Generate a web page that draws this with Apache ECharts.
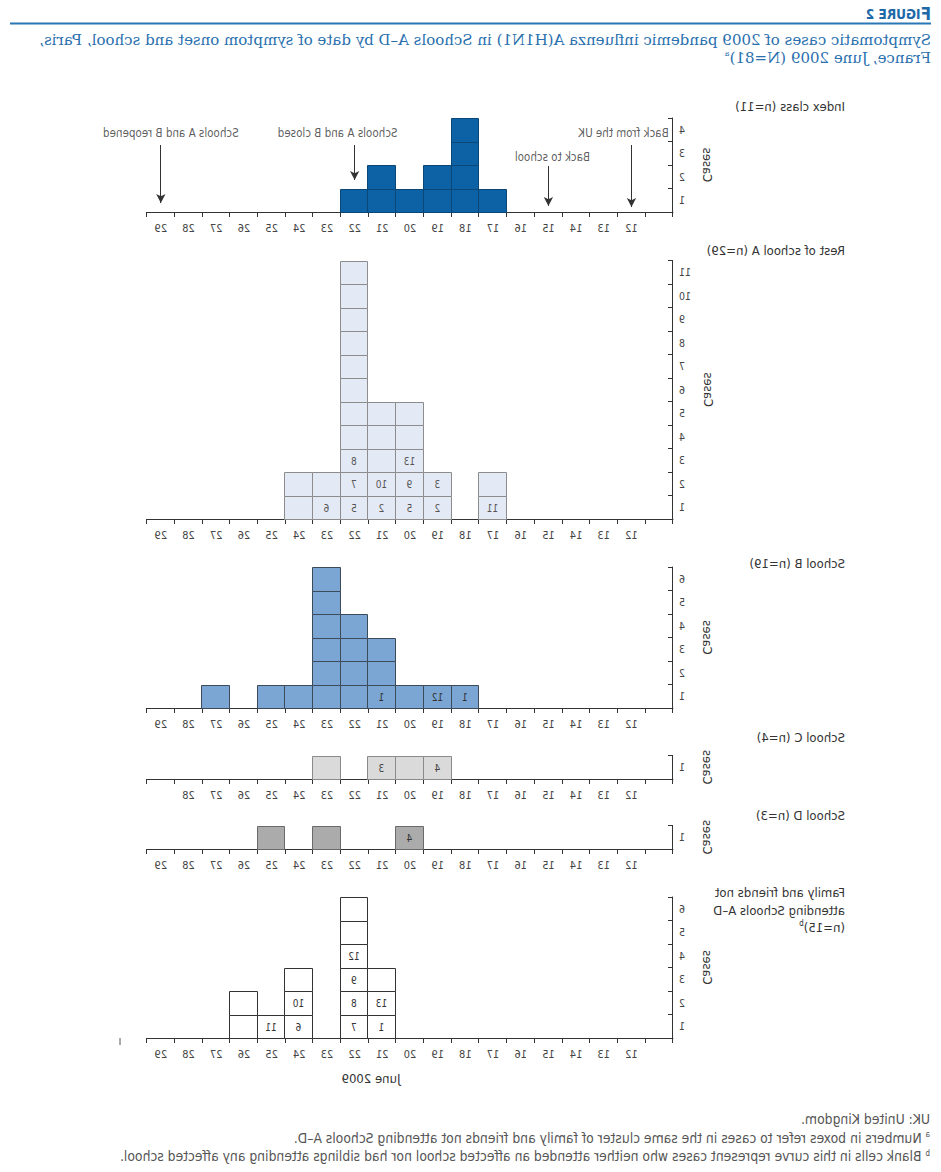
<!DOCTYPE html>
<html>
<head>
<meta charset="utf-8">
<script src="https://cdn.jsdelivr.net/npm/echarts/dist/echarts.min.js"></script>
<style>
html,body{margin:0;padding:0;background:#ffffff;}
#chart{width:941px;height:1172px;transform:scaleX(-1);}
</style>
</head>
<body>
<div id="chart"></div>
<script>
// ---------- DATA ----------
const days = ['11','12','13','14','15','16','17','18','19','20','21','22','23','24','25','26','27','28','29'];
const xTickLabels  = ['', '12','13','14','15','16','17','18','19','20','21','22','23','24','25','26','27','28','29'];
const xTickLabelsC = ['', '12','13','14','15','16','17','18','19','20','21','22','23','24','25','26','27','28',''];

//                     11 12 13 14 15 16 17 18 19 20 21 22 23 24 25 26 27 28 29
const indexClassCases = [0, 0, 0, 0, 0, 0, 1, 4, 2, 1, 2, 1, 0, 0, 0, 0, 0, 0, 0];
const restOfACases    = [0, 0, 0, 0, 0, 0, 2, 0, 2, 5, 5,11, 2, 2, 0, 0, 0, 0, 0];
const schoolBCases    = [0, 0, 0, 0, 0, 0, 0, 1, 1, 1, 3, 4, 6, 1, 1, 0, 1, 0, 0];
const schoolCCases    = [0, 0, 0, 0, 0, 0, 0, 0, 1, 1, 1, 0, 1, 0, 0, 0, 0, 0, 0];
const schoolDCases    = [0, 0, 0, 0, 0, 0, 0, 0, 0, 1, 0, 0, 1, 0, 1, 0, 0, 0, 0];
const familyCases     = [0, 0, 0, 0, 0, 0, 0, 0, 0, 0, 3, 6, 0, 3, 1, 2, 0, 0, 0];

// [day, level, text]
const indexClassCellLabels = [];
const restOfACellLabels = [['23',1,'6'],['22',1,'5'],['22',2,'7'],['22',3,'8'],['21',1,'2'],['21',2,'10'],
  ['20',1,'5'],['20',2,'9'],['20',3,'13'],['19',1,'2'],['19',2,'3'],['17',1,'11']];
const schoolBCellLabels = [['21',1,'1'],['19',1,'12'],['18',1,'1']];
const schoolCCellLabels = [['21',1,'3'],['19',1,'4']];
const schoolDCellLabels = [['20',1,'4']];
const familyCellLabels  = [['25',1,'11'],['24',1,'6'],['24',2,'10'],['22',1,'7'],['22',2,'8'],['22',3,'9'],
  ['22',4,'12'],['21',1,'1'],['21',2,'13']];

const yTicksIndex  = ['1','2','3','4'];
const yTicksRestA  = ['1','2','3','4','5','6','7','8','9','10','11'];
const yTicksB      = ['1','2','3','4','5','6'];
const yTicksC      = ['1'];
const yTicksD      = ['1'];
const yTicksFamily = ['1','2','3','4','5','6'];

const panelTitles = ['Index class (n=11)', 'Rest of school A (n=29)', 'School B (n=19)',
  'School C (n=4)', 'School D (n=3)', 'Family and friends not\nattending Schools A\u2013D\n(n=15){sup|b}'];

const annotationDays  = ['12', '15', '22', '29'];
const annotationTexts = ['Back from the UK', 'Back to school', 'Schools A and B closed', 'Schools A and B reopened'];

const figureTitleLines = ['Symptomatic cases of 2009 pandemic influenza A(H1N1) in Schools A\u2013D by date of symptom onset and school, Paris,',
  'France, June 2009 (N=81){sup|a}'];
const footnotes = ['UK: United Kingdom.',
  '{sup|a} Numbers in boxes refer to cases in the same cluster of family and friends not attending Schools A\u2013D.',
  '{sup|b} Blank cells in this curve represent cases who neither attended an affected school nor had siblings attending any affected school.'];
const xAxisTitle = 'June 2009';

// ---------- LAYOUT / STYLE ----------
const FONT = '"Liberation Sans Narrow","DejaVu Sans Condensed","Liberation Sans",sans-serif';
const SERIF = '"DejaVu Serif","Liberation Serif",serif';
const UNIT = 23.5;
const GRID_LEFT = 268, GRID_RIGHT = 147;
const panels = [
  {axisY:212,  cases:indexClassCases, cells:indexClassCellLabels, yTicks:yTicksIndex,  xLabels:xTickLabels,  fill:'#0d62a6', border:'#0a4676', lab:'#fff', titleTop:98},
  {axisY:519,  cases:restOfACases,    cells:restOfACellLabels,    yTicks:yTicksRestA,  xLabels:xTickLabels,  fill:'#e4eaf5', border:'#8c8c8c', lab:'#555', titleTop:242},
  {axisY:708,  cases:schoolBCases,    cells:schoolBCellLabels,    yTicks:yTicksB,      xLabels:xTickLabels,  fill:'#7ba6d3', border:'#3c4a5a', lab:'#333', titleTop:555},
  {axisY:779,  cases:schoolCCases,    cells:schoolCCellLabels,    yTicks:yTicksC,      xLabels:xTickLabelsC, fill:'#dadada', border:'#8a8a8a', lab:'#444', titleTop:729},
  {axisY:849,  cases:schoolDCases,    cells:schoolDCellLabels,    yTicks:yTicksD,      xLabels:xTickLabels,  fill:'#ababab', border:'#6a6a6a', lab:'#333', titleTop:807},
  {axisY:1038, cases:familyCases,     cells:familyCellLabels,     yTicks:yTicksFamily, xLabels:xTickLabels,  fill:'#ffffff', border:'#333333', lab:'#333', titleTop:884}
];
// annotation vertical placement (in case units) for panel 1
const annoStyle = [
  {textY:3.36, y0:2.85, y1:0.21, dx:8},
  {textY:2.34, y0:1.96, y1:0.26, dx:-4},
  {textY:3.36, y0:2.85, y1:1.36, dx:17},
  {textY:3.36, y0:2.85, y1:0.38, dx:-10}
];

const AX = '#333';
const grids = [], xAxes = [], yAxes = [], series = [], titles = [];

panels.forEach((p, pi) => {
  const H = p.yTicks.length;
  grids.push({left:GRID_LEFT, right:GRID_RIGHT, top:p.axisY - H*UNIT, height:H*UNIT, outerBoundsMode:'none'});
  const xa = {
    type:'category', gridIndex:pi, data:days, boundaryGap:true,
    axisLine:{show:true, lineStyle:{color:AX, width:1}},
    axisTick:{show:true, interval:0, length:5, lineStyle:{color:AX}},
    axisLabel:{interval:0, fontSize:11, color:'#444', margin:11, fontFamily:FONT,
      formatter:(v, i) => p.xLabels[i]},
    splitLine:{show:false}
  };
  if (pi === 5) {
    xa.name = xAxisTitle; xa.nameLocation = 'middle'; xa.nameGap = 34;
    xa.nameTextStyle = {fontSize:13, color:'#333', fontFamily:FONT, padding:[0,0,0,78]};
  }
  xAxes.push(xa);
  yAxes.push({type:'value', gridIndex:pi, min:0, max:H, show:false});
  yAxes.push({
    type:'category', gridIndex:pi, data:p.yTicks, boundaryGap:true, position:'left',
    axisLine:{show:true, lineStyle:{color:AX, width:1}},
    axisTick:{show:true, inside:true, interval:0, length:5, lineStyle:{color:AX}},
    axisLabel:{interval:0, fontSize:10.5, color:'#444', margin:6, fontFamily:FONT},
    splitLine:{show:false},
    name:'Cases', nameLocation:'middle', nameGap:28, nameRotate:90,
    nameTextStyle:{fontSize:13, color:'#333', fontFamily:FONT}
  });
  // one record per stacked case cell: [dayIndex, level, label]
  const cellData = [];
  p.cases.forEach((c, di) => {
    for (let k = 1; k <= c; k++) {
      const f = p.cells.find(e => e[0] === days[di] && e[1] === k);
      cellData.push([di, k, f ? f[2] : '']);
    }
  });
  series.push({
    type:'custom', xAxisIndex:pi, yAxisIndex:2*pi, silent:true,
    data:cellData,
    encode:{x:0, y:1},
    renderItem:(params, api) => {
      const di = api.value(0), k = api.value(1);
      const lo = api.coord([di, k - 1]);
      const hi = api.coord([di, k]);
      const w = api.size([1, 0])[0];
      const x0 = Math.round(lo[0] - w / 2) + 0.5;
      const x1 = Math.round(lo[0] + w / 2) + 0.5;
      const y0 = Math.round(hi[1]) + 0.5;
      const y1 = Math.round(lo[1]) + 0.5;
      const txt = cellData[params.dataIndex][2];
      return {
        type:'rect',
        shape:{x:x0, y:y0, width:x1 - x0, height:y1 - y0},
        style:{fill:p.fill, stroke:p.border, lineWidth:1},
        textContent: txt ? {style:{text:txt, fill:p.lab, fontSize:10, fontFamily:FONT}} : undefined,
        textConfig: txt ? {position:'inside'} : undefined
      };
    }
  });
  titles.push({
    text:panelTitles[pi], left:96, top:p.titleTop, padding:0,
    textStyle:{fontSize:13, fontWeight:'normal', color:'#333', fontFamily:FONT, lineHeight:17.5,
      rich:{sup:{fontSize:8, verticalAlign:'top', lineHeight:12, color:'#333', fontFamily:FONT}}}
  });
});

// annotations (panel 1)
series.push({
  type:'scatter', xAxisIndex:0, yAxisIndex:0, symbolSize:0, silent:true,
  data:annotationDays.map((d, i) => ({value:[d, annoStyle[i].textY], name:annotationTexts[i],
    label:{offset:[annoStyle[i].dx, 0]}})),
  label:{show:true, position:'inside', formatter:'{b}', fontSize:11.5, color:'#333', fontFamily:FONT},
  markLine:{
    silent:true, symbol:['none','arrow'], symbolSize:[7,9], precision:3,
    lineStyle:{color:'#333', width:1, type:'solid'}, label:{show:false},
    data:annotationDays.map((d, i) => [{coord:[d, annoStyle[i].y0]}, {coord:[d, annoStyle[i].y1]}])
  }
});

titles.push({
  text:'{f|F}{r|IGURE 2}', left:10, top:5, padding:0,
  textStyle:{rich:{
    f:{fontSize:17, fontWeight:'bold', color:'#1d69a8', fontFamily:FONT},
    r:{fontSize:13.5, fontWeight:'bold', color:'#1d69a8', fontFamily:FONT}}}
});
figureTitleLines.forEach((t, i) => {
  titles.push({
    text:t, left:10, top:32 + i*17.5, padding:0,
    textStyle:{fontSize:15, fontWeight:'normal', color:'#2a70ae', fontFamily:SERIF, lineHeight:16,
      rich:{sup:{fontSize:8, verticalAlign:'top', lineHeight:10, color:'#2a70ae', fontFamily:SERIF}}}
  });
});
footnotes.forEach((t, i) => {
  titles.push({
    text:t, left:11, top:1112 + i*18.5, padding:0,
    textStyle:{fontSize:13.8, fontWeight:'normal', color:'#555', fontFamily:FONT,
      rich:{sup:{fontSize:8, verticalAlign:'top', lineHeight:12, color:'#555', fontFamily:FONT}}}
  });
});

const chart = echarts.init(document.getElementById('chart'), null, {renderer:'svg', width:941, height:1172});
chart.setOption({
  backgroundColor:'#ffffff',
  animation:false,
  textStyle:{fontFamily:FONT},
  title:titles,
  grid:grids, xAxis:xAxes, yAxis:yAxes, series:series,
  graphic:[
    {type:'line', shape:{x1:10, y1:23.5, x2:931, y2:23.5}, style:{stroke:'#2a77b5', lineWidth:2}, silent:true},
    {type:'line', shape:{x1:821, y1:1038, x2:821, y2:1045}, style:{stroke:'#555', lineWidth:1}, silent:true}
  ]
});
</script>
</body>
</html>
